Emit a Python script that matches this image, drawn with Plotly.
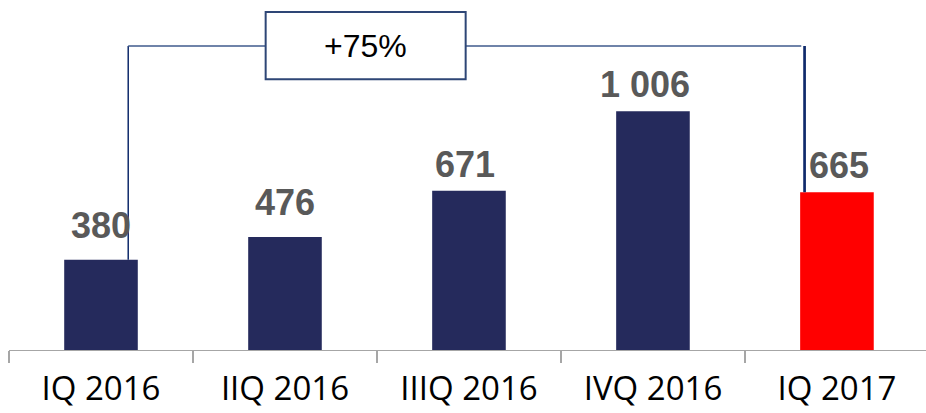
import plotly.graph_objects as go

# ---- data ----
categories = ["IQ 2016", "IIQ 2016", "IIIQ 2016", "IVQ 2016", "IQ 2017"]
values = [380, 476, 671, 1006, 665]
growth_label = "+75%"

# ---- style ----
BAR_NAVY = "#252A5C"
BAR_RED = "#FF0000"
bar_colors = [BAR_NAVY, BAR_NAVY, BAR_NAVY, BAR_NAVY, BAR_RED]
LABEL_GRAY = "#595959"
LINE_BLUE = "#3F5A8C"
LINE_DARK = "#0F2A6B"
BOX_BORDER = "#2E4676"
label_lift = [12, 12, 4, 4, 4]
label_dx = [0, 0, -4, -8, 2]
Y_MAX = 1475


def fmt(v):
    return f"{v:,}".replace(",", " ")


fig = go.Figure()
fig.add_trace(go.Bar(
    x=categories,
    y=values,
    marker=dict(color=bar_colors, line=dict(width=0)),
    width=0.4,
    hoverinfo="skip",
))

annotations = []
for i, (c, v) in enumerate(zip(categories, values)):
    annotations.append(dict(
        x=c, y=v, xref="x", yref="y",
        text=fmt(v), showarrow=False,
        yanchor="bottom", xanchor="center",
        yshift=label_lift[i], xshift=label_dx[i],
        font=dict(family="Liberation Sans, Arial", size=36, color=LABEL_GRAY, weight="bold"),
    ))

# bracket geometry (category-axis units / paper units)
bracket_y = 0.8686
left_x = 0.148
right_x = 3.824
box_x0, box_x1 = 0.895, 1.982
box_y0, box_y1 = 0.7734, 0.9657

annotations.append(dict(
    x=(box_x0 + box_x1) / 2, y=(box_y0 + box_y1) / 2,
    xref="x", yref="paper", text=growth_label, showarrow=False,
    xanchor="center", yanchor="middle",
    font=dict(family="Liberation Sans, Arial", size=32, color="#000000"),
))

shapes = [
    dict(type="line", xref="x", yref="y", x0=left_x, x1=left_x,
         y0=values[0], y1=bracket_y * Y_MAX, line=dict(color=LINE_DARK, width=1.5)),
    dict(type="line", xref="x", yref="paper", x0=left_x, x1=box_x0,
         y0=bracket_y, y1=bracket_y, line=dict(color=LINE_BLUE, width=1.5)),
    dict(type="line", xref="x", yref="paper", x0=box_x1, x1=3.806,
         y0=bracket_y, y1=bracket_y, line=dict(color=LINE_BLUE, width=1.5)),
    dict(type="line", xref="x", yref="y", x0=right_x, x1=right_x,
         y0=values[4], y1=bracket_y * Y_MAX, line=dict(color=LINE_DARK, width=2.7)),
    dict(type="rect", xref="x", yref="paper", x0=box_x0, x1=box_x1,
         y0=box_y0, y1=box_y1, line=dict(color=BOX_BORDER, width=2),
         fillcolor="white"),
]

fig.update_layout(
    width=926, height=413,
    margin=dict(l=9, r=0, t=0, b=63),
    paper_bgcolor="white", plot_bgcolor="white",
    showlegend=False,
    hovermode=False,
    annotations=annotations,
    shapes=shapes,
    xaxis=dict(
        type="category",
        range=[-0.5, 4.484],
        automargin=False,
        showline=True, linecolor="#A6A6A6", linewidth=1.2,
        ticks="outside", tickson="boundaries", ticklen=12,
        tickcolor="#A6A6A6", tickwidth=1.2,
        showgrid=False, zeroline=False,
        tickfont=dict(family="Open Sans", size=33, color="#000000"),
        ticklabelstandoff=9,
        fixedrange=True,
    ),
    yaxis=dict(
        range=[0, Y_MAX], visible=False, showgrid=False, zeroline=False,
        automargin=False, fixedrange=True,
    ),
)

fig.write_html(
    "out.html",
    config={"displayModeBar": False, "staticPlot": True},
    post_script="document.body.style.margin='0';document.body.style.overflow='hidden';",
)
